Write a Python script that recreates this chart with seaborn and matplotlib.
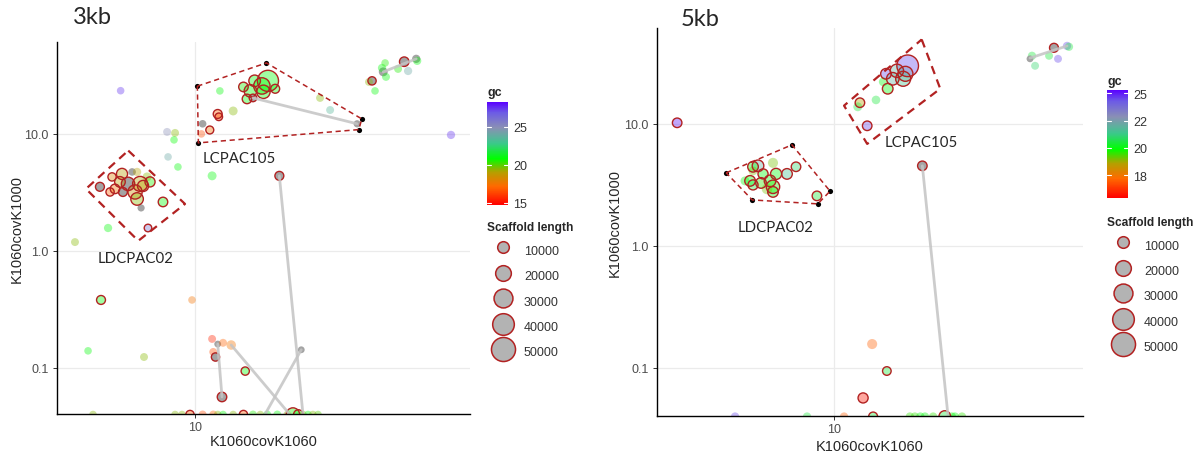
import numpy as np
import pandas as pd
import matplotlib
matplotlib.use("Agg")
import matplotlib.pyplot as plt
import seaborn as sns
from matplotlib.colors import LinearSegmentedColormap, Normalize
from matplotlib.lines import Line2D

sns.set_theme(style="white")
plt.rcParams["font.family"] = ["Liberation Sans", "DejaVu Sans"]

NA = np.nan

# ---------------- 3kb panel ----------------
x3 = [5.65,
      17.5, 16.7, 15.8, 14.5, 15.3, 14.9, 15.6, 18.5, 16.9, 13.4, 12.1, 11.9, 12.0, 11.2, 10.6, 10.5, 26.1, 28.2, 34.7,
      4.82, 5.29, 5.71, 5.21, 5.41, 5.75, 5.98, 6.17, 6.41, 6.56, 6.31, 6.41, 7.08, 6.71, 7.82, 6.61, 6.97, 5.13, 3.98, 5.62, 6.92,
      8.07, 8.58, 8.51, 8.13, 8.77, 11.4, 19.1,
      4.86, 9.77, 4.40, 6.76, 11.4, 11.5, 11.7, 11.9, 12.4, 13.2, 14.7, 12.3, 22.6,
      49.8, 54.6, 55.0, 51.3, 42.4, 42.0, 43.0, 47.5, 43.3, 38.9, 38.0, 39.8, 71.3,
      4.57, 8.58, 9.05, 9.62, 10.6, 11.5, 11.9, 12.4, 13.4, 14.5, 15.6, 16.5, 17.4, 18.8, 20.3, 21.2, 22.1, 22.9, 23.8, 24.7, 25.7]
y3 = [23.4,
      28.4, 25.7, 28.4, 25.2, 23.3, 19.9, 20.3, 24.3, 22.9, 15.7, 23.3, 14.8, 14.0, 10.8, 12.2, 10.0, 20.3, 16.0, 12.2,
      3.53, 4.29, 4.55, 3.19, 3.39, 3.19, 3.74, 4.73, 4.73, 3.74, 3.19, 2.78, 3.89, 3.59, 2.62, 2.33, 1.57, 1.57, 1.19, 3.89, 4.29,
      10.4, 10.2, 8.89, 6.36, 5.22, 4.38, 4.38,
      0.381, 0.381, 0.140, 0.124, 0.177, 0.137, 0.124, 0.160, 0.164, 0.157, 0.094, 0.0565, 0.143,
      41.4, 43.8, 42.1, 34.5, 33.9, 36.6, 40.4, 35.9, 30.7, 28.4, 27.8, 23.3, 9.8,
      0.04, 0.04, 0.04, 0.04, 0.04, 0.04, 0.04, 0.04, 0.04, 0.04, 0.04, 0.04, 0.04, 0.04, 0.04, 0.04, 0.04, 0.04, 0.04, 0.04, 0.04]
gc3 = [27.5,
       21, 20.8, 21, 20.5, 20.8, 21, NA, 21, 20.8, 19.5, 21, 17, 16.5, 17.5, NA, 16.5, 19.5, 23.5, NA,
       NA, 18, 19, 17, 17.5, NA, NA, NA, 19, 19, 18.5, 19.5, 20.5, 19, 21, NA, 26, 21, 19.5, 19, 19.5,
       25, 19.5, 20.8, 24, 21, 21, NA,
       21, 17.5, 21, 19.5, 15.5, 16.5, NA, NA, 17, 17.5, 21, NA, NA,
       NA, NA, 21, 24, NA, 21, 20.5, 20.5, 21, NA, 19.5, 21, 27.5,
       19.5, 19.5, 19.5, 17, 16.5, 17, 19.5, 21, 19.5, 17, 20.5, 19.5, 21, 21, 19.5, 20.5, 21, 19.5, 21, 19.5, 20]
len3 = [3000,
        38000, 22000, 10000, 6000, 12000, 6000, 3000, 5000, 14000, 5000, 3000, 5000, 3000, 3500, 3000, 3000, 3500, 3500, 2500,
        5000, 4000, 9000, 4000, 6000, 5000, 14000, 3000, 4000, 18000, 16000, 12000, 7000, 9000, 6000, 2500, 3000, 4000, 3500, 8000, 5000,
        3500, 3500, 3000, 3000, 3000, 5000, 5000,
        5000, 3000, 3000, 3500, 3500, 3500, 4000, 2000, 3500, 6000, 4000, 6000, 2000,
        6000, 4000, 4000, 4000, 5000, 4000, 3000, 3500, 3500, 4000, 3500, 3000, 4000,
        3000, 3000, 3000, 4000, 3500, 3500, 3000, 3000, 3000, 4000, 3500, 3000, 3500, 3500, 3000, 14000, 6000, 3000, 3000, 3000, 3000]
ring3 = [0,
         1, 1, 1, 1, 1, 1, 1, 1, 1, 0, 0, 1, 1, 1, 0, 0, 0, 0, 0,
         1, 1, 1, 1, 1, 1, 1, 0, 0, 1, 1, 1, 1, 1, 1, 0, 1, 0, 0, 1, 0,
         0, 0, 0, 0, 0, 0, 1,
         1, 0, 0, 0, 0, 0, 1, 0, 0, 0, 1, 1, 0,
         1, 0, 0, 0, 0, 0, 0, 0, 0, 1, 0, 0, 0,
         0, 0, 0, 1, 0, 0, 0, 0, 0, 1, 0, 0, 0, 0, 0, 1, 1, 0, 0, 0, 0]
link3_x0 = [15.6, 42.4, 19.1, 11.9, 13.2, 22.6]
link3_y0 = [20.3, 33.9, 4.38, 0.160, 0.157, 0.143]
link3_x1 = [34.7, 54.6, 22.9, 12.3, 20.7, 17.1]
link3_y1 = [12.2, 43.8, 0.04, 0.0565, 0.04, 0.04]
hull3_x = [10.18, 17.3, 35.96, 35.14, 10.26]     # LCPAC105
hull3_y = [25.57, 40.4, 13.43, 10.88, 8.38]
box3_x = [5.99, 9.26, 6.47, 4.33]                # LDCPAC02
box3_y = [7.20, 2.52, 1.22, 3.39]

# ---------------- 5kb panel ----------------
x5 = [3.00,
      5.58, 5.37, 5.25, 5.37, 5.71, 5.80, 6.26, 6.41, 6.12, 6.26, 6.26, 5.98, 6.97, 7.47, 8.77, 5.37, 5.05,
      17.6, 17.3, 16.2, 14.9, 17.0, 15.7, 15.1, 14.6, 12.2, 12.0, 13.8, 12.9, 19.7,
      13.4, 15.0, 12.5,
      54.1, 59.8, 60.7, 52.1, 55.8, 45.7, 45.0, 46.8,
      4.68, 8.13, 10.8, 13.5, 17.9, 18.6, 19.4, 20.1, 21.4, 23.4, 24.7, 25.3, 26.7]
y5 = [10.2,
      4.53, 4.45, 3.41, 3.16, 3.28, 3.89, 4.79, 3.89, 3.41, 3.05, 2.77, 2.93, 3.89, 4.45, 2.57, 4.12, 3.41,
      29.9, 25.7, 27.2, 25.7, 23.4, 23.4, 19.4, 22.1, 14.9, 13.8, 15.7, 9.64, 4.53,
      0.157, 0.0944, 0.0568,
      42.0, 43.5, 42.8, 36.1, 34.1, 36.1, 34.1, 29.9,
      0.04, 0.04, 0.04, 0.04, 0.04, 0.04, 0.04, 0.04, 0.04, 0.04, 0.04, 0.04, 0.04]
gc5 = [25,
       22, 20, 20, 20.5, 19.5, 20, 19, 20, 20, 19.5, 20, 19, 21.5, 21, 20.5, 19, 20,
       24.5, 22.5, 22, 24.5, 21.5, 22, 20, 20, 18.5, 20.5, 20.5, 24.5, NA,
       17, 20.5, 15.8,
       NA, 24.5, 20.5, 20.5, 24.5, 20.5, NA, 21,
       24.5, 20.5, 17, 20.5, 19.5, 19.5, 20, 20, 19.5, 20.5, 20, 20, 19.5]
len5 = [6000,
        10000, 8000, 8000, 7000, 8000, 7000, 7000, 9000, 10000, 14000, 8000, 8000, 8000, 6000, 6000, 5000, 5000,
        40000, 18000, 14000, 8000, 18000, 12000, 8000, 5000, 6000, 5000, 4500, 6000, 6000,
        7000, 4500, 7000,
        5000, 4000, 4000, 3500, 3500, 4000, 2000, 3500,
        4000, 4000, 4000, 5000, 4000, 4000, 4000, 4000, 4000, 10000, 4000, 4000, 4000]
ring5 = [1,
         1, 1, 1, 1, 1, 1, 0, 1, 1, 1, 1, 0, 1, 1, 1, 0, 0,
         1, 1, 1, 1, 1, 1, 1, 0, 1, 0, 0, 1, 1,
         0, 1, 1,
         1, 0, 0, 0, 0, 0, 0, 0,
         0, 0, 0, 1, 0, 0, 0, 0, 0, 1, 0, 0, 0]
link5_x0 = [19.7, 45.0]
link5_y0 = [4.53, 34.6]
link5_x1 = [24.0, 59.8]
link5_y1 = [0.04, 43.5]
hull5_x = [4.37, 7.24, 9.70, 8.83, 5.34]          # LDCPAC02
hull5_y = [3.97, 6.73, 2.81, 2.21, 2.38]
box5_x = [19.6, 22.6, 12.9, 10.8]                 # LCPAC105
box5_y = [49.1, 19.4, 6.85, 14.1]

legend_lengths = [10000, 20000, 30000, 40000, 50000]

# ---------------- styling ----------------
W, H = 1203, 456
RING = "#b22222"
GREY = "#9a9a9a"
gc_cmap = LinearSegmentedColormap.from_list("gc", [
    (0.0, "#ff0000"), (0.18, "#ff6a00"), (0.32, "#b4a000"), (0.45, "#00ff00"),
    (0.6, "#3cc88c"), (0.75, "#8a90b4"), (0.9, "#6c5ae6"), (1.0, "#5a00ff")])
S_LO, S_HI = 12.4, 300.0     # marker area (pt^2) for length 0 and 50000


def area(L):
    return S_LO + (S_HI - S_LO) * L / 50000


fig = plt.figure(figsize=(W / 100, H / 100), dpi=100)


def px_box(l, t, r, b):
    return [l / W, 1 - b / H, (r - l) / W, (b - t) / H]


def draw_panel(ax, x, y, gc, length, ring, norm, lx0, ly0, lx1, ly1,
               hull_x, hull_y, box_x, box_y, xlim):
    df = pd.DataFrame({"x": x, "y": y, "gc": gc, "len": length, "ring": ring})
    ax.set_xscale("log")
    ax.set_yscale("log")

    # grey links
    seg = pd.DataFrame({
        "x": np.ravel(np.column_stack([lx0, lx1])),
        "y": np.ravel(np.column_stack([ly0, ly1])),
        "seg": np.repeat(np.arange(len(lx0)), 2)})
    sns.lineplot(data=seg, x="x", y="y", units="seg", estimator=None, sort=False,
                 color="#c4c4c4", lw=2.0, alpha=0.85, ax=ax, legend=False)

    # filled points coloured by gc
    sns.scatterplot(data=df, x="x", y="y", size="len", sizes=(S_LO, S_HI),
                    size_norm=(0, 50000), linewidth=0, legend=False, ax=ax)
    pts = ax.collections[-1]
    cols = gc_cmap(norm(df["gc"].to_numpy()))
    cols[:, 3] = 0.38
    grey = df["gc"].isna().to_numpy()
    cols[grey] = matplotlib.colors.to_rgba(GREY, 0.9)
    pts.set_facecolors(cols)
    pts.set_edgecolors("none")

    # red rings for binned scaffolds
    sub = df[df["ring"] == 1]
    sns.scatterplot(data=sub, x="x", y="y", size="len", sizes=(S_LO, S_HI),
                    size_norm=(0, 50000), legend=False, ax=ax)
    rc = ax.collections[-1]
    rc.set_facecolors("none")
    rc.set_edgecolors(RING)
    rc.set_linewidths(1.0)

    # convex hull (dashed, black vertices) and box (long dashes)
    ax.plot(hull_x + hull_x[:1], hull_y + hull_y[:1], color=RING, lw=1.1,
            ls=(0, (3.4, 2.4)))
    sns.scatterplot(x=hull_x, y=hull_y, color="black", s=14, linewidth=0, ax=ax)
    ax.plot(box_x + box_x[:1], box_y + box_y[:1], color=RING, lw=1.6,
            ls=(0, (3.8, 2.6)))

    ax.set_xlim(*xlim)
    ax.set_ylim(0.0404, 61)
    ax.set_xticks([10])
    ax.set_xticklabels(["10"])
    ax.set_yticks([0.1, 1, 10])
    ax.set_yticklabels(["0.1", "1.0", "10.0"])
    ax.minorticks_off()
    ax.grid(True, color="#ebebeb", lw=0.9)
    ax.set_axisbelow(True)
    for s in ["top", "right"]:
        ax.spines[s].set_visible(False)
    for s in ["left", "bottom"]:
        ax.spines[s].set_color("black")
        ax.spines[s].set_linewidth(1.0)
    ax.tick_params(axis="both", length=3, width=0.7, color="#333333",
                   labelsize=9, labelcolor="#4d4d4d", left=True, bottom=True)
    ax.tick_params(axis="x", pad=2)
    ax.tick_params(axis="y", pad=3)
    ax.set_xlabel("K1060covK1060", fontsize=10.5)
    ax.set_ylabel("K1060covK1000", fontsize=10.5)


def draw_colorbar(cax, norm, ticks, labels, title_xy):
    sm = plt.cm.ScalarMappable(norm=norm, cmap=gc_cmap)
    cb = fig.colorbar(sm, cax=cax, ticks=ticks)
    cb.set_ticklabels(labels)
    cb.outline.set_visible(False)
    cax.tick_params(length=0, labelsize=9, pad=4, labelcolor="#333333")
    for t in ticks:
        cax.axhline(t, 0, 0.2, color="white", lw=0.8)
        cax.axhline(t, 0.8, 1, color="white", lw=0.8)
    fig.text(title_xy[0] / W, 1 - title_xy[1] / H, "gc", fontsize=9,
             fontweight="bold", ha="left", va="center")


def draw_size_legend(anchor_xy):
    handles = [Line2D([], [], ls="none", marker="o", markersize=np.sqrt(area(L)),
                      markerfacecolor="#b3b3b3", markeredgecolor=RING,
                      markeredgewidth=1.1) for L in legend_lengths]
    leg = fig.legend(handles, [str(L) for L in legend_lengths],
                     title="Scaffold length", loc="upper left",
                     bbox_to_anchor=(anchor_xy[0] / W, 1 - anchor_xy[1] / H),
                     frameon=False, fontsize=9, borderpad=0, borderaxespad=0,
                     handlelength=2.6, handleheight=1.8, handletextpad=0.35,
                     labelspacing=0.62, alignment="left",
                     title_fontproperties={"weight": "bold", "size": 8.6})
    for t in leg.get_texts():
        t.set_color("#333333")


# ---- left panel (3kb)
axL = fig.add_axes(px_box(57, 43, 470, 415))
normL = Normalize(14.7, 28.3)
draw_panel(axL, x3, y3, gc3, len3, ring3, normL, link3_x0, link3_y0, link3_x1, link3_y1,
           hull3_x, hull3_y, box3_x, box3_y, (3.467, 82.5))
axL.xaxis.set_label_coords(0.5, -0.073)
axL.xaxis.label.set_va("center")
axL.yaxis.set_label_coords(-0.097, 0.5)
axL.yaxis.label.set_va("center")
axL.text(10.63, 6.24, "LCPAC105", fontsize=10.8, family="Lato", ha="left", va="center")
axL.text(4.75, 0.87, "LDCPAC02", fontsize=10.8, family="Lato", ha="left", va="center")
fig.text(73 / W, 1 - 18 / H, "3kb", fontsize=17, family="Lato", ha="left", va="center")

caxL = fig.add_axes(px_box(487, 103, 508, 206))
draw_colorbar(caxL, normL, [15, 20, 25], ["15", "20", "25"], (487, 93))
draw_size_legend((487, 222))

# ---- right panel (5kb)
axR = fig.add_axes(px_box(657, 29, 1083, 417))
normR = Normalize(15.4, 25.3)
draw_panel(axR, x5, y5, gc5, len5, ring5, normR, link5_x0, link5_y0, link5_x1, link5_y1,
           hull5_x, hull5_y, box5_x, box5_y, (2.57, 67.6))
axR.xaxis.set_label_coords(0.5, -0.077)
axR.xaxis.label.set_va("center")
axR.yaxis.set_label_coords(-0.099, 0.5)
axR.yaxis.label.set_va("center")
axR.text(4.79, 1.43, "LDCPAC02", fontsize=10.8, family="Lato", ha="left", va="center")
axR.text(14.8, 7.11, "LCPAC105", fontsize=10.8, family="Lato", ha="left", va="center")
fig.text(681 / W, 1 - 20 / H, "5kb", fontsize=17, family="Lato", ha="left", va="center")

caxR = fig.add_axes(px_box(1107, 91, 1128, 199))
draw_colorbar(caxR, normR, [17.5, 20, 22.5, 25], ["18", "20", "22", "25"], (1107, 82))
draw_size_legend((1107, 217))

fig.savefig("out.png", dpi=100, facecolor="white")
